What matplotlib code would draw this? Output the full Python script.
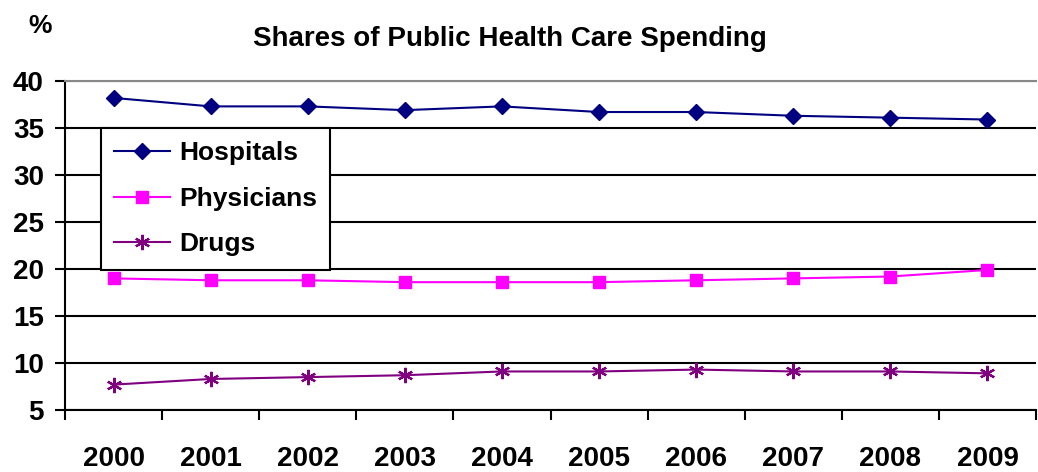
import matplotlib
matplotlib.use("Agg")
import matplotlib.pyplot as plt
import numpy as np

years = ["2000", "2001", "2002", "2003", "2004", "2005", "2006", "2007", "2008", "2009"]
hospitals = [38.2, 37.3, 37.3, 36.9, 37.3, 36.7, 36.7, 36.3, 36.1, 35.9]
physicians = [19.0, 18.8, 18.8, 18.6, 18.6, 18.6, 18.8, 19.0, 19.2, 19.9]
drugs = [7.7, 8.3, 8.5, 8.7, 9.1, 9.1, 9.3, 9.1, 9.1, 8.9]

plt.rcParams['font.family'] = ['Liberation Sans', 'DejaVu Sans']

W, H = 1038, 472
fig = plt.figure(figsize=(W / 100, H / 100), dpi=100)
ax = fig.add_axes([65 / W, 1 - 410 / H, (1036 - 65) / W, (410 - 81) / H])

x = np.arange(len(years))
ax.plot(x, hospitals, color="#000080", marker="D", markersize=8.5, lw=1.5, label="Hospitals")
ax.plot(x, physicians, color="#FF00FF", marker="s", markersize=8, lw=1.5, label="Physicians")
ax.plot(x, drugs, color="#800080", marker=(6, 2, 0), markersize=11, mew=1.6, lw=1.5, label="Drugs")

ax.set_xlim(-0.5, len(years) - 0.5)
ax.set_ylim(5, 40)
ax.set_yticks(np.arange(5, 41, 5))
ax.yaxis.grid(True, color="black", lw=1.5)
ax.set_axisbelow(True)

ax.set_xticks(np.arange(-0.5, len(years), 1.0))
ax.set_xticklabels([])
ax.set_xticks(x, minor=True)
ax.set_xticklabels(years, minor=True)
ax.tick_params(axis="x", which="major", direction="out", length=7.2, width=1.5, color="black")
ax.tick_params(axis="x", which="minor", length=0, pad=26, labelsize=20)
ax.tick_params(axis="y", direction="out", length=7.2, width=1.5, labelsize=20, pad=8)
for lab in ax.get_xticklabels(minor=True) + ax.get_yticklabels():
    lab.set_fontweight("bold")

ax.spines["right"].set_visible(False)
ax.spines["top"].set_color("#888888")
ax.spines["top"].set_linewidth(1.5)
ax.spines["left"].set_linewidth(1.5)
ax.spines["bottom"].set_linewidth(1.5)

leg = ax.legend(loc="upper left", bbox_to_anchor=((101 - 65) / (1036 - 65), 1 - (128 - 81) / (410 - 81)),
                frameon=True, fancybox=False, edgecolor="black", framealpha=1,
                prop={"weight": "bold", "size": 19}, handlelength=2.1, borderpad=0.5,
                labelspacing=0.82, handletextpad=0.35, borderaxespad=0)
leg.get_frame().set_linewidth(1.5)

fig.text(510 / W, 1 - 39 / H, "Shares of Public Health Care Spending", ha="center", va="center",
         fontsize=20, fontweight="bold")
fig.text(40 / W, 1 - 26 / H, "%", ha="center", va="center", fontsize=19, fontweight="bold")

fig.savefig("out.png", dpi=100)
